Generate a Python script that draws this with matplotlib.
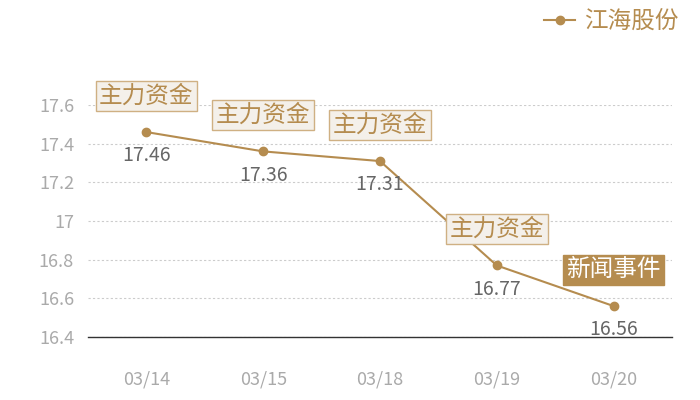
import matplotlib
matplotlib.use("Agg")
import matplotlib.pyplot as plt

plt.rcParams['font.family'] = ['Noto Sans CJK SC', 'DejaVu Sans']

dates = ["03/14", "03/15", "03/18", "03/19", "03/20"]
prices = [17.46, 17.36, 17.31, 16.77, 16.56]
events = ["主力资金", "主力资金", "主力资金", "主力资金", "新闻事件"]
series_name = "江海股份"
yticks = [16.4, 16.6, 16.8, 17.0, 17.2, 17.4, 17.6]
ytick_labels = ["16.4", "16.6", "16.8", "17", "17.2", "17.4", "17.6"]

GOLD = "#b58c4f"
BOX_FILL = "#f4f0ea"
BOX_EDGE = "#cfb083"
GRAY = "#aaaaaa"

fig = plt.figure(figsize=(7, 4), dpi=100)
ax = fig.add_axes([0.1257, 0.1575, 0.8343, 0.58])

x = list(range(len(dates)))
line, = ax.plot(x, prices, color=GOLD, lw=1.5, marker="o", ms=6, zorder=3,
                label=series_name)

ax.set_xlim(-0.5, len(dates) - 0.5)
ax.set_ylim(16.4, 17.6)
ax.set_yticks(yticks)
ax.set_yticklabels(ytick_labels)
ax.set_xticks(x)
ax.set_xticklabels(dates)
ax.tick_params(axis="both", length=0, labelsize=13, colors=GRAY)
ax.tick_params(axis="x", pad=24)
ax.tick_params(axis="y", pad=10)
ax.grid(axis="y", color="#cccccc", ls=(0, (2, 2)), lw=0.8)
for s in ["top", "right", "left"]:
    ax.spines[s].set_visible(False)
ax.spines["bottom"].set_color("#333333")
ax.spines["bottom"].set_linewidth(1)

for xi, p, ev in zip(x, prices, events):
    ax.annotate(f"{p:.2f}", (xi, p), xytext=(0, -17), textcoords="offset points",
                ha="center", va="center", fontsize=14, color="#666666")
    if ev == "新闻事件":
        fc, ec, tc = GOLD, GOLD, "white"
    else:
        fc, ec, tc = BOX_FILL, BOX_EDGE, GOLD
    ax.annotate(ev, (xi, p), xytext=(0, 26), textcoords="offset points",
                ha="center", va="center", fontsize=17, color=tc,
                bbox=dict(boxstyle="square,pad=0.15", fc=fc, ec=ec, lw=1),
                annotation_clip=False, zorder=4)

fig.legend(handles=[line], loc="upper right", bbox_to_anchor=(0.99, 1.01),
           frameon=False, fontsize=17, labelcolor=GOLD, handlelength=1.3,
           handletextpad=0.4, borderaxespad=0.2)

fig.savefig("out.png", dpi=100)
